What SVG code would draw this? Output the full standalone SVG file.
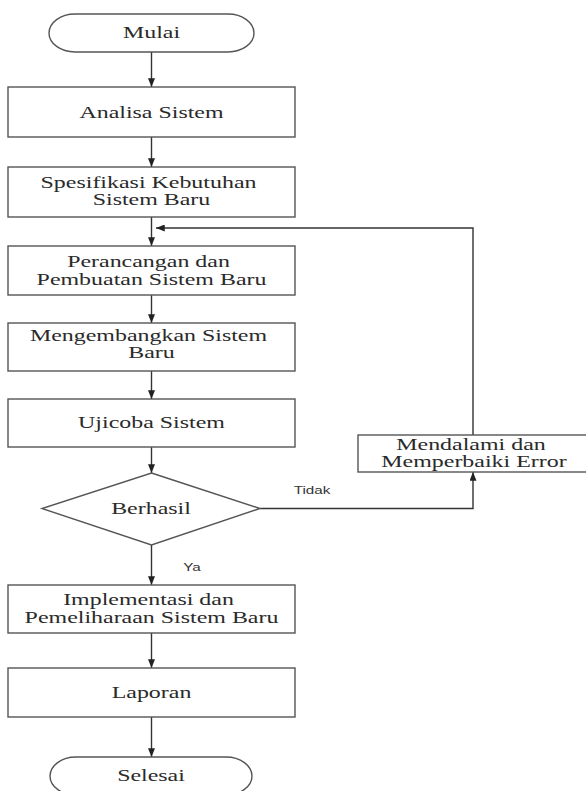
<svg xmlns="http://www.w3.org/2000/svg" width="586" height="791" viewBox="0 0 586 791">
  <style>
    .shape { fill: #ffffff; stroke: #555555; stroke-width: 1.4; }
    .flow { fill: none; stroke: #333333; stroke-width: 1.4; }
    .label { font-family: "Liberation Serif", "Times New Roman", serif; font-size: 16.5px; fill: #2a2a2a; text-anchor: middle; }
    .cond { font-family: "Liberation Sans", Arial, sans-serif; font-size: 10.5px; fill: #333333; text-anchor: middle; }
  </style>
  <defs>
    <marker id="arrow" viewBox="0 0 10 8" refX="10" refY="4" markerWidth="9" markerHeight="7" markerUnits="userSpaceOnUse" orient="auto">
      <path d="M0,0 L10,4 L0,8 z" fill="#222222"/>
    </marker>
  </defs>
  <rect width="586" height="791" fill="#ffffff"/>

  <!-- connectors -->
  <g id="connectors">
    <line class="flow" x1="151.5" y1="52" x2="151.5" y2="87" marker-end="url(#arrow)"/>
    <line class="flow" x1="151.5" y1="137" x2="151.5" y2="167" marker-end="url(#arrow)"/>
    <line class="flow" x1="151.5" y1="217" x2="151.5" y2="246" marker-end="url(#arrow)"/>
    <line class="flow" x1="151.5" y1="295" x2="151.5" y2="323" marker-end="url(#arrow)"/>
    <line class="flow" x1="151.5" y1="371" x2="151.5" y2="399" marker-end="url(#arrow)"/>
    <line class="flow" x1="151.5" y1="447" x2="151.5" y2="473" marker-end="url(#arrow)"/>
    <line class="flow" x1="151.5" y1="545" x2="151.5" y2="585" marker-end="url(#arrow)"/>
    <line class="flow" x1="151.5" y1="633" x2="151.5" y2="668" marker-end="url(#arrow)"/>
    <line class="flow" x1="151.5" y1="717" x2="151.5" y2="757" marker-end="url(#arrow)"/>
    <!-- "Tidak" branch to the error-fixing step -->
    <polyline class="flow" points="260,508.5 473,508.5 473,472" marker-end="url(#arrow)"/>
    <!-- loop back above the design step -->
    <polyline class="flow" points="473,435 473,228 156,228" marker-end="url(#arrow)"/>
    <text class="cond" transform="translate(312,493.5) scale(1.45 1)">Tidak</text>
    <text class="cond" transform="translate(192,570.5) scale(1.45 1)">Ya</text>
  </g>

  <g id="mulai">
    <rect class="shape" x="49" y="14" width="205" height="38" rx="26" ry="19"/>
    <text class="label" transform="translate(151.5,37.5) scale(1.45 1)">Mulai</text>
  </g>

  <g id="analisa">
    <rect class="shape" x="8" y="87" width="287" height="50"/>
    <text class="label" transform="translate(151.5,117.5) scale(1.45 1)">Analisa Sistem</text>
  </g>

  <g id="spesifikasi">
    <rect class="shape" x="8" y="167" width="287" height="50"/>
    <text class="label" transform="translate(151.5,188) scale(1.45 1)">
      <tspan x="0" y="0">Spesifikasi Kebutuhan</tspan>
      <tspan x="0" y="17.5">Sistem Baru</tspan>
    </text>
  </g>

  <g id="perancangan">
    <rect class="shape" x="8" y="246" width="287" height="49"/>
    <text class="label" transform="translate(151.5,267) scale(1.45 1)">
      <tspan x="0" y="0">Perancangan dan</tspan>
      <tspan x="0" y="18.5">Pembuatan Sistem Baru</tspan>
    </text>
  </g>

  <g id="mengembangkan">
    <rect class="shape" x="8" y="323" width="287" height="48"/>
    <text class="label" transform="translate(151.5,341) scale(1.45 1)">
      <tspan x="0" y="0">Mengembangkan Sistem</tspan>
      <tspan x="0" y="17.5">Baru</tspan>
    </text>
  </g>

  <g id="ujicoba">
    <rect class="shape" x="8" y="399" width="287" height="48"/>
    <text class="label" transform="translate(151.5,427.5) scale(1.45 1)">Ujicoba Sistem</text>
  </g>

  <g id="berhasil">
    <polygon class="shape" points="151.5,473 260,508.5 151.5,545 42,508.5"/>
    <text class="label" transform="translate(151,513.5) scale(1.45 1)">Berhasil</text>
  </g>

  <g id="perbaikan">
    <rect class="shape" x="358" y="435" width="232" height="37"/>
    <text class="label" transform="translate(474,450) scale(1.45 1)">
      <tspan x="0" y="0">Mendalami dan</tspan>
      <tspan x="0" y="17.5">Memperbaiki Error</tspan>
    </text>
  </g>

  <g id="implementasi">
    <rect class="shape" x="8" y="585" width="287" height="48"/>
    <text class="label" transform="translate(151.5,605) scale(1.45 1)">
      <tspan x="0" y="0">Implementasi dan</tspan>
      <tspan x="0" y="18">Pemeliharaan Sistem Baru</tspan>
    </text>
  </g>

  <g id="laporan">
    <rect class="shape" x="8" y="668" width="287" height="49"/>
    <text class="label" transform="translate(151.5,697.5) scale(1.45 1)">Laporan</text>
  </g>

  <g id="selesai">
    <rect class="shape" x="50" y="757" width="202" height="38" rx="26" ry="19"/>
    <text class="label" transform="translate(151,780.5) scale(1.45 1)">Selesai</text>
  </g>
</svg>
